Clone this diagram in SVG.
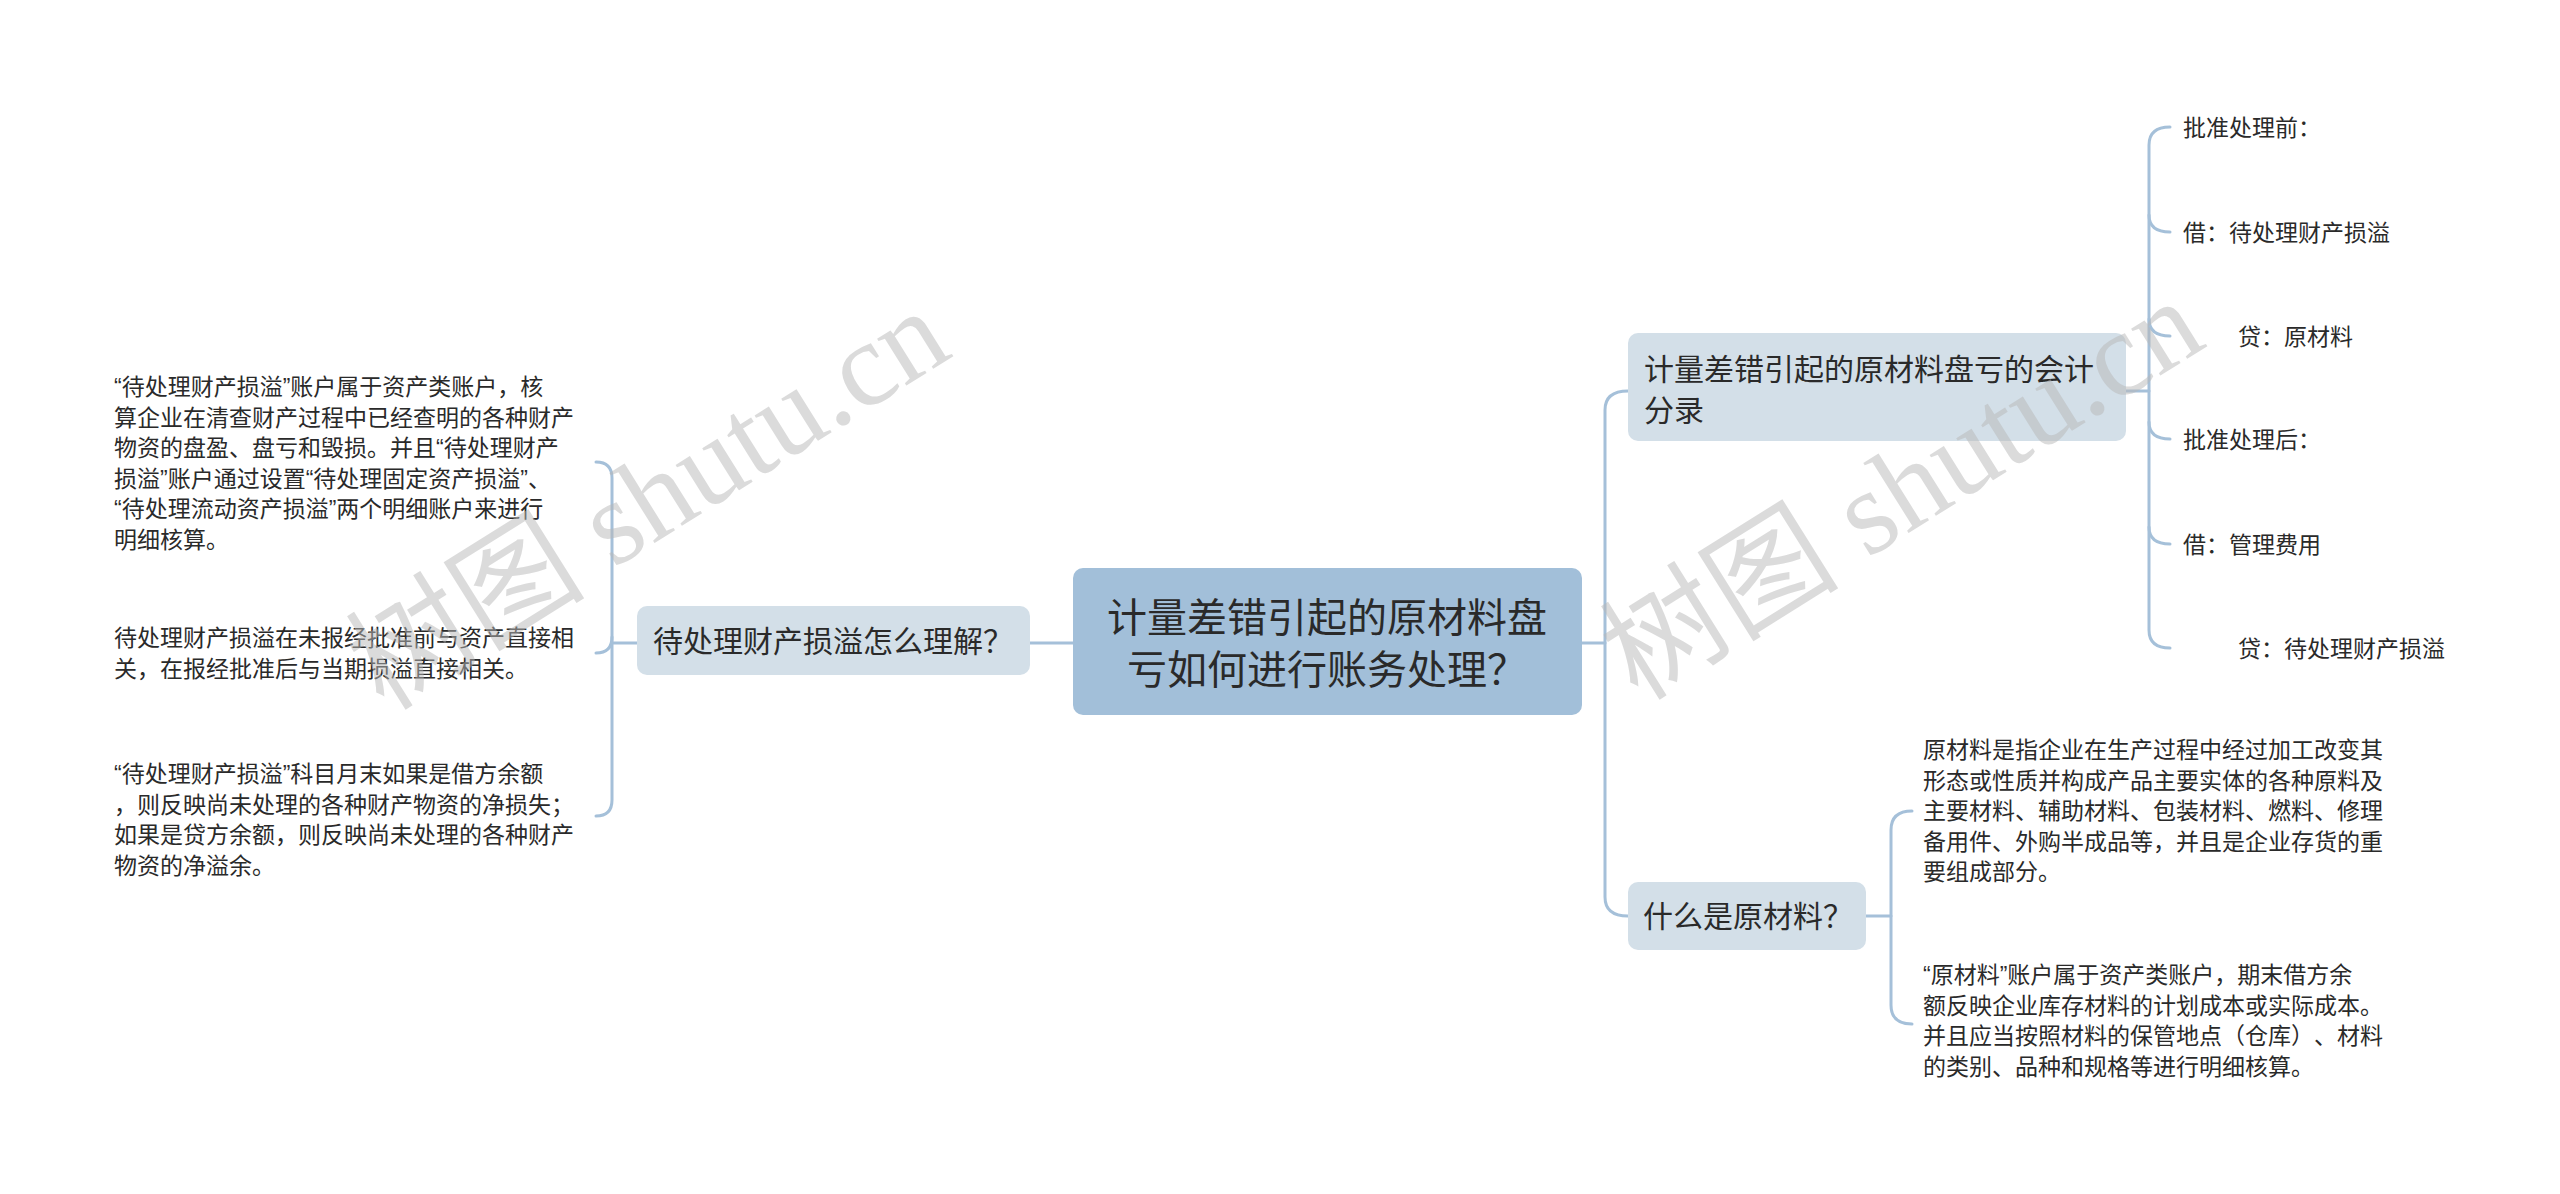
<svg xmlns="http://www.w3.org/2000/svg" width="2560" height="1194" viewBox="0 0 2560 1194">
<style>
.t{font-family:"Liberation Sans","Noto Sans CJK SC",sans-serif;fill:#2a2a2a;text-spacing-trim:space-all}
.s{font-size:23px}
.n{font-size:30px}
.c{font-size:40px}
.ln{fill:none;stroke:#a5c0d9;stroke-width:3;stroke-linecap:round}
.wm{font-family:"Liberation Serif","Noto Sans CJK SC",serif;font-size:120px;fill:#b8b8b8;opacity:0.5}
</style>
<rect width="2560" height="1194" fill="#ffffff"/>
<g id="connectors">
<path class="ln" d="M1073 643 L1030 643"/>
<path class="ln" d="M637 643 L612 643"/>
<path class="ln" d="M596 462 Q612 462 612 478 L612 800 Q612 816 596 816"/>
<path class="ln" d="M612 637 Q612 653 596 653"/>
<path class="ln" d="M1582 643 L1605 643"/>
<path class="ln" d="M1628 391 Q1605 391 1605 410 L1605 897 Q1605 916 1628 916"/>
<path class="ln" d="M2126 391 L2149 391"/>
<path class="ln" d="M2170 127 Q2149 127 2149 145 L2149 630 Q2149 648 2170 648"/>
<path class="ln" d="M2149 215 Q2149 232 2170 232"/>
<path class="ln" d="M2149 319 Q2149 336 2170 336"/>
<path class="ln" d="M2149 422 Q2149 439 2170 439"/>
<path class="ln" d="M2149 527 Q2149 544 2170 544"/>
<path class="ln" d="M1866 916 L1891 916"/>
<path class="ln" d="M1912 811 Q1891 811 1891 830 L1891 1005 Q1891 1024 1912 1024"/>
</g>
<g id="root">
<rect x="1073" y="568" width="509" height="147" rx="10" fill="#a2bfd9"/>
<text class="t c" text-anchor="middle"><tspan x="1327" y="632">计量差错引起的原材料盘</tspan><tspan x="1327" y="684">亏如何进行账务处理？</tspan></text>
</g>
<g id="n-left">
<rect x="637" y="606" width="393" height="69" rx="10" fill="#d3dfe8"/>
<text class="t n" x="653" y="652">待处理财产损溢怎么理解？</text>
</g>
<g id="n-left-1">
<text class="t s"><tspan x="114" y="395">“待处理财产损溢”账户属于资产类账户，核</tspan><tspan x="114" y="425.5">算企业在清查财产过程中已经查明的各种财产</tspan><tspan x="114" y="456">物资的盘盈、盘亏和毁损。并且“待处理财产</tspan><tspan x="114" y="486.5">损溢”账户通过设置“待处理固定资产损溢”、</tspan><tspan x="114" y="517">“待处理流动资产损溢”两个明细账户来进行</tspan><tspan x="114" y="547.5">明细核算。</tspan></text>
</g>
<g id="n-left-2">
<text class="t s"><tspan x="114" y="646">待处理财产损溢在未报经批准前与资产直接相</tspan><tspan x="114" y="677">关，在报经批准后与当期损溢直接相关。</tspan></text>
</g>
<g id="n-left-3">
<text class="t s"><tspan x="114" y="782">“待处理财产损溢”科目月末如果是借方余额</tspan><tspan x="114" y="813">，则反映尚未处理的各种财产物资的净损失；</tspan><tspan x="114" y="843">如果是贷方余额，则反映尚未处理的各种财产</tspan><tspan x="114" y="874">物资的净溢余。</tspan></text>
</g>
<g id="n-right-1">
<rect x="1628" y="333" width="498" height="108" rx="10" fill="#d3dfe8"/>
<text class="t n"><tspan x="1644" y="380">计量差错引起的原材料盘亏的会计</tspan><tspan x="1644" y="421">分录</tspan></text>
</g>
<g id="n-r1-a"><text class="t s" x="2183" y="136">批准处理前：</text></g>
<g id="n-r1-b"><text class="t s" x="2183" y="241">借：待处理财产损溢</text></g>
<g id="n-r1-c"><text class="t s" x="2238" y="345">贷：原材料</text></g>
<g id="n-r1-d"><text class="t s" x="2183" y="448">批准处理后：</text></g>
<g id="n-r1-e"><text class="t s" x="2183" y="553">借：管理费用</text></g>
<g id="n-r1-f"><text class="t s" x="2238" y="657">贷：待处理财产损溢</text></g>
<g id="n-right-2">
<rect x="1628" y="882" width="238" height="68" rx="10" fill="#d3dfe8"/>
<text class="t n" x="1643" y="927">什么是原材料？</text>
</g>
<g id="n-r2-a">
<text class="t s"><tspan x="1923" y="758">原材料是指企业在生产过程中经过加工改变其</tspan><tspan x="1923" y="789">形态或性质并构成产品主要实体的各种原料及</tspan><tspan x="1923" y="819">主要材料、辅助材料、包装材料、燃料、修理</tspan><tspan x="1923" y="850">备用件、外购半成品等，并且是企业存货的重</tspan><tspan x="1923" y="880">要组成部分。</tspan></text>
</g>
<g id="n-r2-b">
<text class="t s"><tspan x="1923" y="983">“原材料”账户属于资产类账户，期末借方余</tspan><tspan x="1923" y="1014">额反映企业库存材料的计划成本或实际成本。</tspan><tspan x="1923" y="1044">并且应当按照材料的保管地点（仓库）、材料</tspan><tspan x="1923" y="1075">的类别、品种和规格等进行明细核算。</tspan></text>
</g>
<g id="watermark">
<text class="wm" transform="translate(384,712) rotate(-32)">树图 shutu.cn</text>
<text class="wm" transform="translate(1638,702) rotate(-32)">树图 shutu.cn</text>
</g>
</svg>
